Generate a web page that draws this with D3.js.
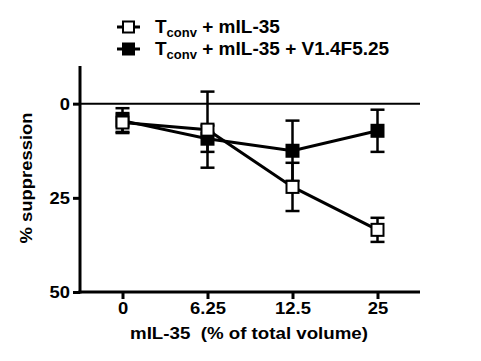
<!DOCTYPE html>
<html><head><meta charset="utf-8">
<script src="https://cdn.jsdelivr.net/npm/d3@7"></script>
<style>body{margin:0;background:#fff}svg{display:block}text{font-family:Arial,"Liberation Sans",sans-serif;font-weight:bold}</style>
</head><body><svg id="c" width="481" height="361"></svg>
<script>
const categories = ["0", "6.25", "12.5", "25"];
const openMean = [5.0, 6.9, 22.1, 33.5];
const openErr = [2.5, 10.1, 6.4, 3.2];
const filledMean = [4.5, 9.3, 12.5, 7.2];
const filledErr = [3.3, 3.5, 8.0, 5.6];
const yTicks = [0, 25, 50];
const seriesNames = ["T|conv| + mIL-35", "T|conv| + mIL-35 + V1.4F5.25"];

const svg = d3.select("#c");
const x = d3.scalePoint().domain(categories).range([80, 420]).padding(0.5);
const y = d3.scaleLinear().domain([-10, 50]).range([66, 292]);

function stretch(sel, k) {
  sel.each(function () {
    const w = this.getComputedTextLength();
    d3.select(this).attr("textLength", w * k).attr("lengthAdjust", "spacingAndGlyphs");
  });
}

// zero line
svg.append("line").attr("x1", 80).attr("x2", 420).attr("y1", y(0)).attr("y2", y(0))
  .attr("stroke", "#000").attr("stroke-width", 2);

// y axis
const ya = svg.append("g").attr("transform", "translate(80,0)")
  .call(d3.axisLeft(y).tickValues(yTicks).tickSize(7).tickPadding(3));
ya.select(".domain").attr("stroke-width", 3).attr("d", `M0,${y(-10)}V${y(50)+1.5}`);
ya.selectAll(".tick line").attr("stroke-width", 3);
ya.selectAll("text").attr("font-size", 17).attr("fill", "#000");
stretch(ya.selectAll("text"), 1.08);

// x axis
const xa = svg.append("g").attr("transform", `translate(0,${y(50)})`)
  .call(d3.axisBottom(x).tickSize(7).tickPadding(4));
xa.select(".domain").attr("stroke-width", 3).attr("d", `M78.5,0H420`);
xa.selectAll(".tick line").attr("stroke-width", 3);
xa.selectAll("text").attr("font-size", 16).attr("fill", "#000");
stretch(xa.selectAll("text"), 1.15);

// axis titles
svg.append("text").attr("x", 130).attr("y", 339).attr("text-anchor", "start")
  .attr("font-size", 17).attr("textLength", 238).attr("lengthAdjust", "spacingAndGlyphs")
  .text("mIL-35\u00a0 (% of total volume)");
svg.append("text").attr("transform", "translate(32,178) rotate(-90)").attr("text-anchor", "middle")
  .attr("font-size", 17).attr("textLength", 131).attr("lengthAdjust", "spacingAndGlyphs")
  .text("% suppression");

function drawSeries(means, errs, filled) {
  const g = svg.append("g");
  const line = d3.line().x((d, i) => x(categories[i])).y(d => y(d));
  g.append("path").attr("d", line(means)).attr("fill", "none").attr("stroke", "#000").attr("stroke-width", 3);
  means.forEach((m, i) => {
    const cx = x(categories[i]);
    const e = errs[i];
    g.append("line").attr("x1", cx).attr("x2", cx).attr("y1", y(m - e)).attr("y2", y(m + e))
      .attr("stroke", "#000").attr("stroke-width", 2.5);
    [m - e, m + e].forEach(v => g.append("line").attr("x1", cx - 7).attr("x2", cx + 7)
      .attr("y1", y(v)).attr("y2", y(v)).attr("stroke", "#000").attr("stroke-width", 2.5));
  });
  means.forEach((m, i) => {
    const cx = x(categories[i]);
    g.append("rect").attr("x", cx - 6).attr("y", y(m) - 6).attr("width", 12).attr("height", 12)
      .attr("fill", filled ? "#000" : "#fff").attr("stroke", "#000").attr("stroke-width", 2);
  });
}
drawSeries(filledMean, filledErr, true);
drawSeries(openMean, openErr, false);

// legend
const leg = svg.append("g");
[[false, 33], [true, 55]].forEach(([filled, by], i) => {
  const cy = by - 6;
  leg.append("line").attr("x1", 117).attr("x2", 140).attr("y1", cy).attr("y2", cy)
    .attr("stroke", "#000").attr("stroke-width", 3);
  leg.append("rect").attr("x", 123).attr("y", cy - 5.5).attr("width", 11).attr("height", 11)
    .attr("fill", filled ? "#000" : "#fff").attr("stroke", "#000").attr("stroke-width", 2);
  const parts = seriesNames[i].split("|");
  const t = leg.append("text").attr("x", 155).attr("y", by).attr("font-size", 19);
  t.append("tspan").text(parts[0]);
  t.append("tspan").attr("font-size", 13).attr("dy", 4).text(parts[1]);
  t.append("tspan").attr("dy", -4).text(parts[2]);
});
</script></body></html>
